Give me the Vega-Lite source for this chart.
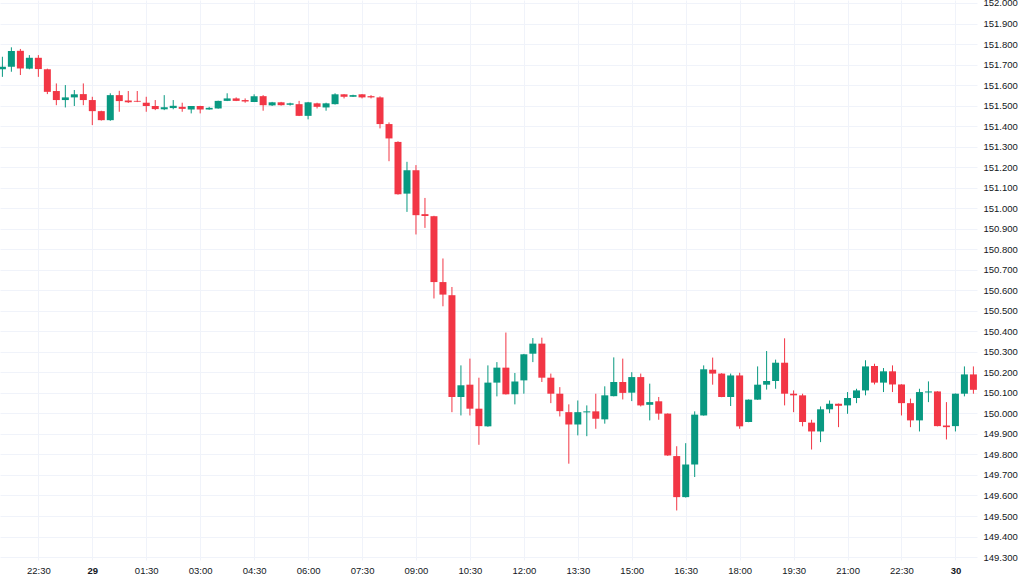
{
  "$schema": "https://vega.github.io/schema/vega-lite/v6.json",
  "width": 977,
  "height": 560,
  "padding": {"left": 0, "top": 0, "right": 47, "bottom": 16},
  "autosize": "none",
  "background": "#ffffff",
  "config": {
    "view": {"stroke": null},
    "font": "Liberation Sans",
    "axisY": {
      "orient": "right",
      "labelFont": "Liberation Sans",
      "labelFontSize": 9.5,
      "labelColor": "#131722",
      "labelPadding": 6,
      "labelOverlap": false,
      "labelFlush": false,
      "domain": false,
      "ticks": false,
      "grid": true,
      "gridColor": "#f0f3fa",
      "gridWidth": 1,
      "format": ".3f",
      "title": null
    }
  },
  "data": {
    "values": [
      {"t": "2024-01-28T21:30", "o": 151.677, "h": 151.738, "l": 151.640, "c": 151.689},
      {"t": "2024-01-28T21:45", "o": 151.689, "h": 151.784, "l": 151.665, "c": 151.766},
      {"t": "2024-01-28T22:00", "o": 151.767, "h": 151.776, "l": 151.649, "c": 151.681},
      {"t": "2024-01-28T22:15", "o": 151.680, "h": 151.746, "l": 151.677, "c": 151.733},
      {"t": "2024-01-28T22:30", "o": 151.733, "h": 151.746, "l": 151.640, "c": 151.678},
      {"t": "2024-01-28T22:45", "o": 151.677, "h": 151.680, "l": 151.556, "c": 151.567},
      {"t": "2024-01-28T23:00", "o": 151.571, "h": 151.608, "l": 151.502, "c": 151.527},
      {"t": "2024-01-28T23:15", "o": 151.527, "h": 151.600, "l": 151.491, "c": 151.540},
      {"t": "2024-01-28T23:30", "o": 151.540, "h": 151.576, "l": 151.498, "c": 151.555},
      {"t": "2024-01-28T23:45", "o": 151.556, "h": 151.608, "l": 151.502, "c": 151.527},
      {"t": "2024-01-29T00:00", "o": 151.527, "h": 151.543, "l": 151.405, "c": 151.473},
      {"t": "2024-01-29T00:15", "o": 151.473, "h": 151.475, "l": 151.427, "c": 151.429},
      {"t": "2024-01-29T00:30", "o": 151.429, "h": 151.560, "l": 151.426, "c": 151.551},
      {"t": "2024-01-29T00:45", "o": 151.551, "h": 151.572, "l": 151.470, "c": 151.522},
      {"t": "2024-01-29T01:00", "o": 151.525, "h": 151.571, "l": 151.513, "c": 151.516},
      {"t": "2024-01-29T01:15", "o": 151.523, "h": 151.571, "l": 151.517, "c": 151.519},
      {"t": "2024-01-29T01:30", "o": 151.514, "h": 151.543, "l": 151.470, "c": 151.498},
      {"t": "2024-01-29T01:45", "o": 151.498, "h": 151.527, "l": 151.478, "c": 151.483},
      {"t": "2024-01-29T02:00", "o": 151.482, "h": 151.551, "l": 151.478, "c": 151.492},
      {"t": "2024-01-29T02:15", "o": 151.488, "h": 151.527, "l": 151.482, "c": 151.499},
      {"t": "2024-01-29T02:30", "o": 151.494, "h": 151.514, "l": 151.470, "c": 151.484},
      {"t": "2024-01-29T02:45", "o": 151.481, "h": 151.498, "l": 151.462, "c": 151.498},
      {"t": "2024-01-29T03:00", "o": 151.498, "h": 151.499, "l": 151.462, "c": 151.481},
      {"t": "2024-01-29T03:15", "o": 151.481, "h": 151.494, "l": 151.480, "c": 151.489},
      {"t": "2024-01-29T03:30", "o": 151.486, "h": 151.524, "l": 151.485, "c": 151.523},
      {"t": "2024-01-29T03:45", "o": 151.523, "h": 151.560, "l": 151.522, "c": 151.535},
      {"t": "2024-01-29T04:00", "o": 151.535, "h": 151.540, "l": 151.522, "c": 151.523},
      {"t": "2024-01-29T04:15", "o": 151.527, "h": 151.535, "l": 151.514, "c": 151.520},
      {"t": "2024-01-29T04:30", "o": 151.518, "h": 151.555, "l": 151.517, "c": 151.546},
      {"t": "2024-01-29T04:45", "o": 151.546, "h": 151.551, "l": 151.475, "c": 151.502},
      {"t": "2024-01-29T05:00", "o": 151.501, "h": 151.518, "l": 151.498, "c": 151.516},
      {"t": "2024-01-29T05:15", "o": 151.516, "h": 151.518, "l": 151.500, "c": 151.502},
      {"t": "2024-01-29T05:30", "o": 151.504, "h": 151.514, "l": 151.500, "c": 151.511},
      {"t": "2024-01-29T05:45", "o": 151.507, "h": 151.523, "l": 151.449, "c": 151.450},
      {"t": "2024-01-29T06:00", "o": 151.450, "h": 151.518, "l": 151.433, "c": 151.516},
      {"t": "2024-01-29T06:15", "o": 151.511, "h": 151.514, "l": 151.486, "c": 151.494},
      {"t": "2024-01-29T06:30", "o": 151.491, "h": 151.514, "l": 151.475, "c": 151.511},
      {"t": "2024-01-29T06:45", "o": 151.507, "h": 151.560, "l": 151.505, "c": 151.555},
      {"t": "2024-01-29T07:00", "o": 151.555, "h": 151.556, "l": 151.535, "c": 151.543},
      {"t": "2024-01-29T07:15", "o": 151.543, "h": 151.553, "l": 151.542, "c": 151.551},
      {"t": "2024-01-29T07:30", "o": 151.555, "h": 151.556, "l": 151.535, "c": 151.540},
      {"t": "2024-01-29T07:45", "o": 151.546, "h": 151.551, "l": 151.535, "c": 151.540},
      {"t": "2024-01-29T08:00", "o": 151.540, "h": 151.545, "l": 151.389, "c": 151.410},
      {"t": "2024-01-29T08:15", "o": 151.410, "h": 151.418, "l": 151.229, "c": 151.340},
      {"t": "2024-01-29T08:30", "o": 151.323, "h": 151.326, "l": 151.066, "c": 151.068},
      {"t": "2024-01-29T08:45", "o": 151.071, "h": 151.226, "l": 150.982, "c": 151.185},
      {"t": "2024-01-29T09:00", "o": 151.185, "h": 151.210, "l": 150.872, "c": 150.966},
      {"t": "2024-01-29T09:15", "o": 150.971, "h": 151.050, "l": 150.904, "c": 150.962},
      {"t": "2024-01-29T09:30", "o": 150.961, "h": 150.963, "l": 150.560, "c": 150.640},
      {"t": "2024-01-29T09:45", "o": 150.640, "h": 150.755, "l": 150.522, "c": 150.579},
      {"t": "2024-01-29T10:00", "o": 150.576, "h": 150.616, "l": 150.006, "c": 150.080},
      {"t": "2024-01-29T10:15", "o": 150.080, "h": 150.234, "l": 149.990, "c": 150.137},
      {"t": "2024-01-29T10:30", "o": 150.140, "h": 150.267, "l": 149.990, "c": 150.023},
      {"t": "2024-01-29T10:45", "o": 150.023, "h": 150.174, "l": 149.847, "c": 149.938},
      {"t": "2024-01-29T11:00", "o": 149.937, "h": 150.234, "l": 149.935, "c": 150.150},
      {"t": "2024-01-29T11:15", "o": 150.150, "h": 150.250, "l": 150.083, "c": 150.223},
      {"t": "2024-01-29T11:30", "o": 150.223, "h": 150.394, "l": 150.092, "c": 150.093},
      {"t": "2024-01-29T11:45", "o": 150.093, "h": 150.197, "l": 150.044, "c": 150.156},
      {"t": "2024-01-29T12:00", "o": 150.161, "h": 150.290, "l": 150.096, "c": 150.288},
      {"t": "2024-01-29T12:15", "o": 150.291, "h": 150.367, "l": 150.250, "c": 150.340},
      {"t": "2024-01-29T12:30", "o": 150.340, "h": 150.369, "l": 150.153, "c": 150.174},
      {"t": "2024-01-29T12:45", "o": 150.174, "h": 150.194, "l": 150.050, "c": 150.096},
      {"t": "2024-01-29T13:00", "o": 150.096, "h": 150.128, "l": 149.985, "c": 150.011},
      {"t": "2024-01-29T13:15", "o": 150.006, "h": 150.044, "l": 149.755, "c": 149.946},
      {"t": "2024-01-29T13:30", "o": 149.946, "h": 150.063, "l": 149.893, "c": 150.006},
      {"t": "2024-01-29T13:45", "o": 150.005, "h": 150.039, "l": 149.889, "c": 150.010},
      {"t": "2024-01-29T14:00", "o": 150.010, "h": 150.096, "l": 149.925, "c": 149.974},
      {"t": "2024-01-29T14:15", "o": 149.971, "h": 150.132, "l": 149.950, "c": 150.088},
      {"t": "2024-01-29T14:30", "o": 150.084, "h": 150.273, "l": 150.083, "c": 150.153},
      {"t": "2024-01-29T14:45", "o": 150.153, "h": 150.267, "l": 150.068, "c": 150.100},
      {"t": "2024-01-29T15:00", "o": 150.101, "h": 150.201, "l": 150.060, "c": 150.177},
      {"t": "2024-01-29T15:15", "o": 150.177, "h": 150.194, "l": 150.034, "c": 150.039},
      {"t": "2024-01-29T15:30", "o": 150.042, "h": 150.145, "l": 149.966, "c": 150.055},
      {"t": "2024-01-29T15:45", "o": 150.059, "h": 150.080, "l": 149.969, "c": 149.999},
      {"t": "2024-01-29T16:00", "o": 149.999, "h": 150.000, "l": 149.793, "c": 149.795},
      {"t": "2024-01-29T16:15", "o": 149.792, "h": 149.840, "l": 149.527, "c": 149.592},
      {"t": "2024-01-29T16:30", "o": 149.592, "h": 149.855, "l": 149.590, "c": 149.751},
      {"t": "2024-01-29T16:45", "o": 149.751, "h": 150.010, "l": 149.690, "c": 149.994},
      {"t": "2024-01-29T17:00", "o": 149.990, "h": 150.234, "l": 149.989, "c": 150.215},
      {"t": "2024-01-29T17:15", "o": 150.213, "h": 150.272, "l": 150.140, "c": 150.194},
      {"t": "2024-01-29T17:30", "o": 150.194, "h": 150.196, "l": 150.079, "c": 150.080},
      {"t": "2024-01-29T17:45", "o": 150.080, "h": 150.194, "l": 150.036, "c": 150.185},
      {"t": "2024-01-29T18:00", "o": 150.185, "h": 150.198, "l": 149.925, "c": 149.937},
      {"t": "2024-01-29T18:15", "o": 149.958, "h": 150.068, "l": 149.957, "c": 150.067},
      {"t": "2024-01-29T18:30", "o": 150.067, "h": 150.229, "l": 150.066, "c": 150.140},
      {"t": "2024-01-29T18:45", "o": 150.140, "h": 150.304, "l": 150.116, "c": 150.158},
      {"t": "2024-01-29T19:00", "o": 150.158, "h": 150.262, "l": 150.120, "c": 150.247},
      {"t": "2024-01-29T19:15", "o": 150.247, "h": 150.366, "l": 150.039, "c": 150.096},
      {"t": "2024-01-29T19:30", "o": 150.096, "h": 150.112, "l": 150.006, "c": 150.088},
      {"t": "2024-01-29T19:45", "o": 150.088, "h": 150.096, "l": 149.937, "c": 149.958},
      {"t": "2024-01-29T20:00", "o": 149.955, "h": 149.969, "l": 149.824, "c": 149.912},
      {"t": "2024-01-29T20:15", "o": 149.912, "h": 150.034, "l": 149.860, "c": 150.020},
      {"t": "2024-01-29T20:30", "o": 150.020, "h": 150.063, "l": 150.001, "c": 150.047},
      {"t": "2024-01-29T20:45", "o": 150.047, "h": 150.048, "l": 149.933, "c": 150.037},
      {"t": "2024-01-29T21:00", "o": 150.039, "h": 150.104, "l": 149.998, "c": 150.075},
      {"t": "2024-01-29T21:15", "o": 150.075, "h": 150.120, "l": 150.050, "c": 150.112},
      {"t": "2024-01-29T21:30", "o": 150.112, "h": 150.259, "l": 150.088, "c": 150.229},
      {"t": "2024-01-29T21:45", "o": 150.231, "h": 150.242, "l": 150.141, "c": 150.150},
      {"t": "2024-01-29T22:00", "o": 150.150, "h": 150.221, "l": 150.104, "c": 150.205},
      {"t": "2024-01-29T22:15", "o": 150.205, "h": 150.234, "l": 150.104, "c": 150.141},
      {"t": "2024-01-29T22:30", "o": 150.141, "h": 150.142, "l": 149.990, "c": 150.050},
      {"t": "2024-01-29T22:45", "o": 150.050, "h": 150.072, "l": 149.933, "c": 149.966},
      {"t": "2024-01-29T23:00", "o": 149.966, "h": 150.120, "l": 149.912, "c": 150.104},
      {"t": "2024-01-29T23:15", "o": 150.102, "h": 150.156, "l": 150.055, "c": 150.107},
      {"t": "2024-01-29T23:30", "o": 150.107, "h": 150.108, "l": 149.937, "c": 149.938},
      {"t": "2024-01-29T23:45", "o": 149.941, "h": 150.055, "l": 149.873, "c": 149.933},
      {"t": "2024-01-30T00:00", "o": 149.938, "h": 150.097, "l": 149.912, "c": 150.096},
      {"t": "2024-01-30T00:15", "o": 150.096, "h": 150.229, "l": 150.083, "c": 150.190},
      {"t": "2024-01-30T00:30", "o": 150.190, "h": 150.229, "l": 150.096, "c": 150.115}
    ]
  },
  "encoding": {
    "x": {
      "field": "t",
      "type": "temporal",
      "title": null,
      "scale": {
        "domain": [
          {"year": 2024, "month": 1, "date": 28, "hours": 21, "minutes": 26},
          {"year": 2024, "month": 1, "date": 30, "hours": 0, "minutes": 36}
        ],
        "nice": false,
        "padding": 0
      },
      "axis": {
        "values": [
          {"year": 2024, "month": 1, "date": 28, "hours": 22, "minutes": 30},
          {"year": 2024, "month": 1, "date": 29, "hours": 0, "minutes": 0},
          {"year": 2024, "month": 1, "date": 29, "hours": 1, "minutes": 30},
          {"year": 2024, "month": 1, "date": 29, "hours": 3, "minutes": 0},
          {"year": 2024, "month": 1, "date": 29, "hours": 4, "minutes": 30},
          {"year": 2024, "month": 1, "date": 29, "hours": 6, "minutes": 0},
          {"year": 2024, "month": 1, "date": 29, "hours": 7, "minutes": 30},
          {"year": 2024, "month": 1, "date": 29, "hours": 9, "minutes": 0},
          {"year": 2024, "month": 1, "date": 29, "hours": 10, "minutes": 30},
          {"year": 2024, "month": 1, "date": 29, "hours": 12, "minutes": 0},
          {"year": 2024, "month": 1, "date": 29, "hours": 13, "minutes": 30},
          {"year": 2024, "month": 1, "date": 29, "hours": 15, "minutes": 0},
          {"year": 2024, "month": 1, "date": 29, "hours": 16, "minutes": 30},
          {"year": 2024, "month": 1, "date": 29, "hours": 18, "minutes": 0},
          {"year": 2024, "month": 1, "date": 29, "hours": 19, "minutes": 30},
          {"year": 2024, "month": 1, "date": 29, "hours": 21, "minutes": 0},
          {"year": 2024, "month": 1, "date": 29, "hours": 22, "minutes": 30},
          {"year": 2024, "month": 1, "date": 30, "hours": 0, "minutes": 0}
        ],
        "labelExpr": "hours(datum.value) == 0 && minutes(datum.value) == 0 ? timeFormat(datum.value, '%-d') : timeFormat(datum.value, '%H:%M')",
        "labelFontWeight": {"expr": "hours(datum.value) == 0 && minutes(datum.value) == 0 ? 'bold' : 'normal'"},
        "labelFont": "Liberation Sans",
        "labelFontSize": 9.5,
        "labelColor": "#131722",
        "labelPadding": 5,
        "labelOverlap": false,
        "labelFlush": false,
        "domain": false,
        "ticks": false,
        "grid": true,
        "gridColor": "#f0f3fa",
        "gridWidth": 1
      }
    }
  },
  "layer": [
    {
      "mark": {"type": "rule", "strokeWidth": 1},
      "encoding": {
        "y": {
          "field": "l",
          "type": "quantitative",
          "title": null,
          "scale": {"domain": [149.2856, 152.0146], "nice": false, "zero": false, "padding": 0},
          "axis": {
            "values": [149.3, 149.4, 149.5, 149.6, 149.7, 149.8, 149.9, 150.0, 150.1, 150.2, 150.3, 150.4, 150.5, 150.6, 150.7, 150.8, 150.9, 151.0, 151.1, 151.2, 151.3, 151.4, 151.5, 151.6, 151.7, 151.8, 151.9, 152.0],
            "tickCount": 28
          }
        },
        "y2": {"field": "h"},
        "color": {
          "condition": {"test": "datum.c > datum.o", "value": "#089981"},
          "value": "#f23645"
        }
      }
    },
    {
      "mark": {"type": "bar", "size": 7},
      "encoding": {
        "y": {
          "field": "o",
          "type": "quantitative",
          "axis": {
            "values": [149.3, 149.4, 149.5, 149.6, 149.7, 149.8, 149.9, 150.0, 150.1, 150.2, 150.3, 150.4, 150.5, 150.6, 150.7, 150.8, 150.9, 151.0, 151.1, 151.2, 151.3, 151.4, 151.5, 151.6, 151.7, 151.8, 151.9, 152.0],
            "tickCount": 28
          }
        },
        "y2": {"field": "c"},
        "color": {
          "condition": {"test": "datum.c > datum.o", "value": "#089981"},
          "value": "#f23645"
        }
      }
    }
  ]
}
